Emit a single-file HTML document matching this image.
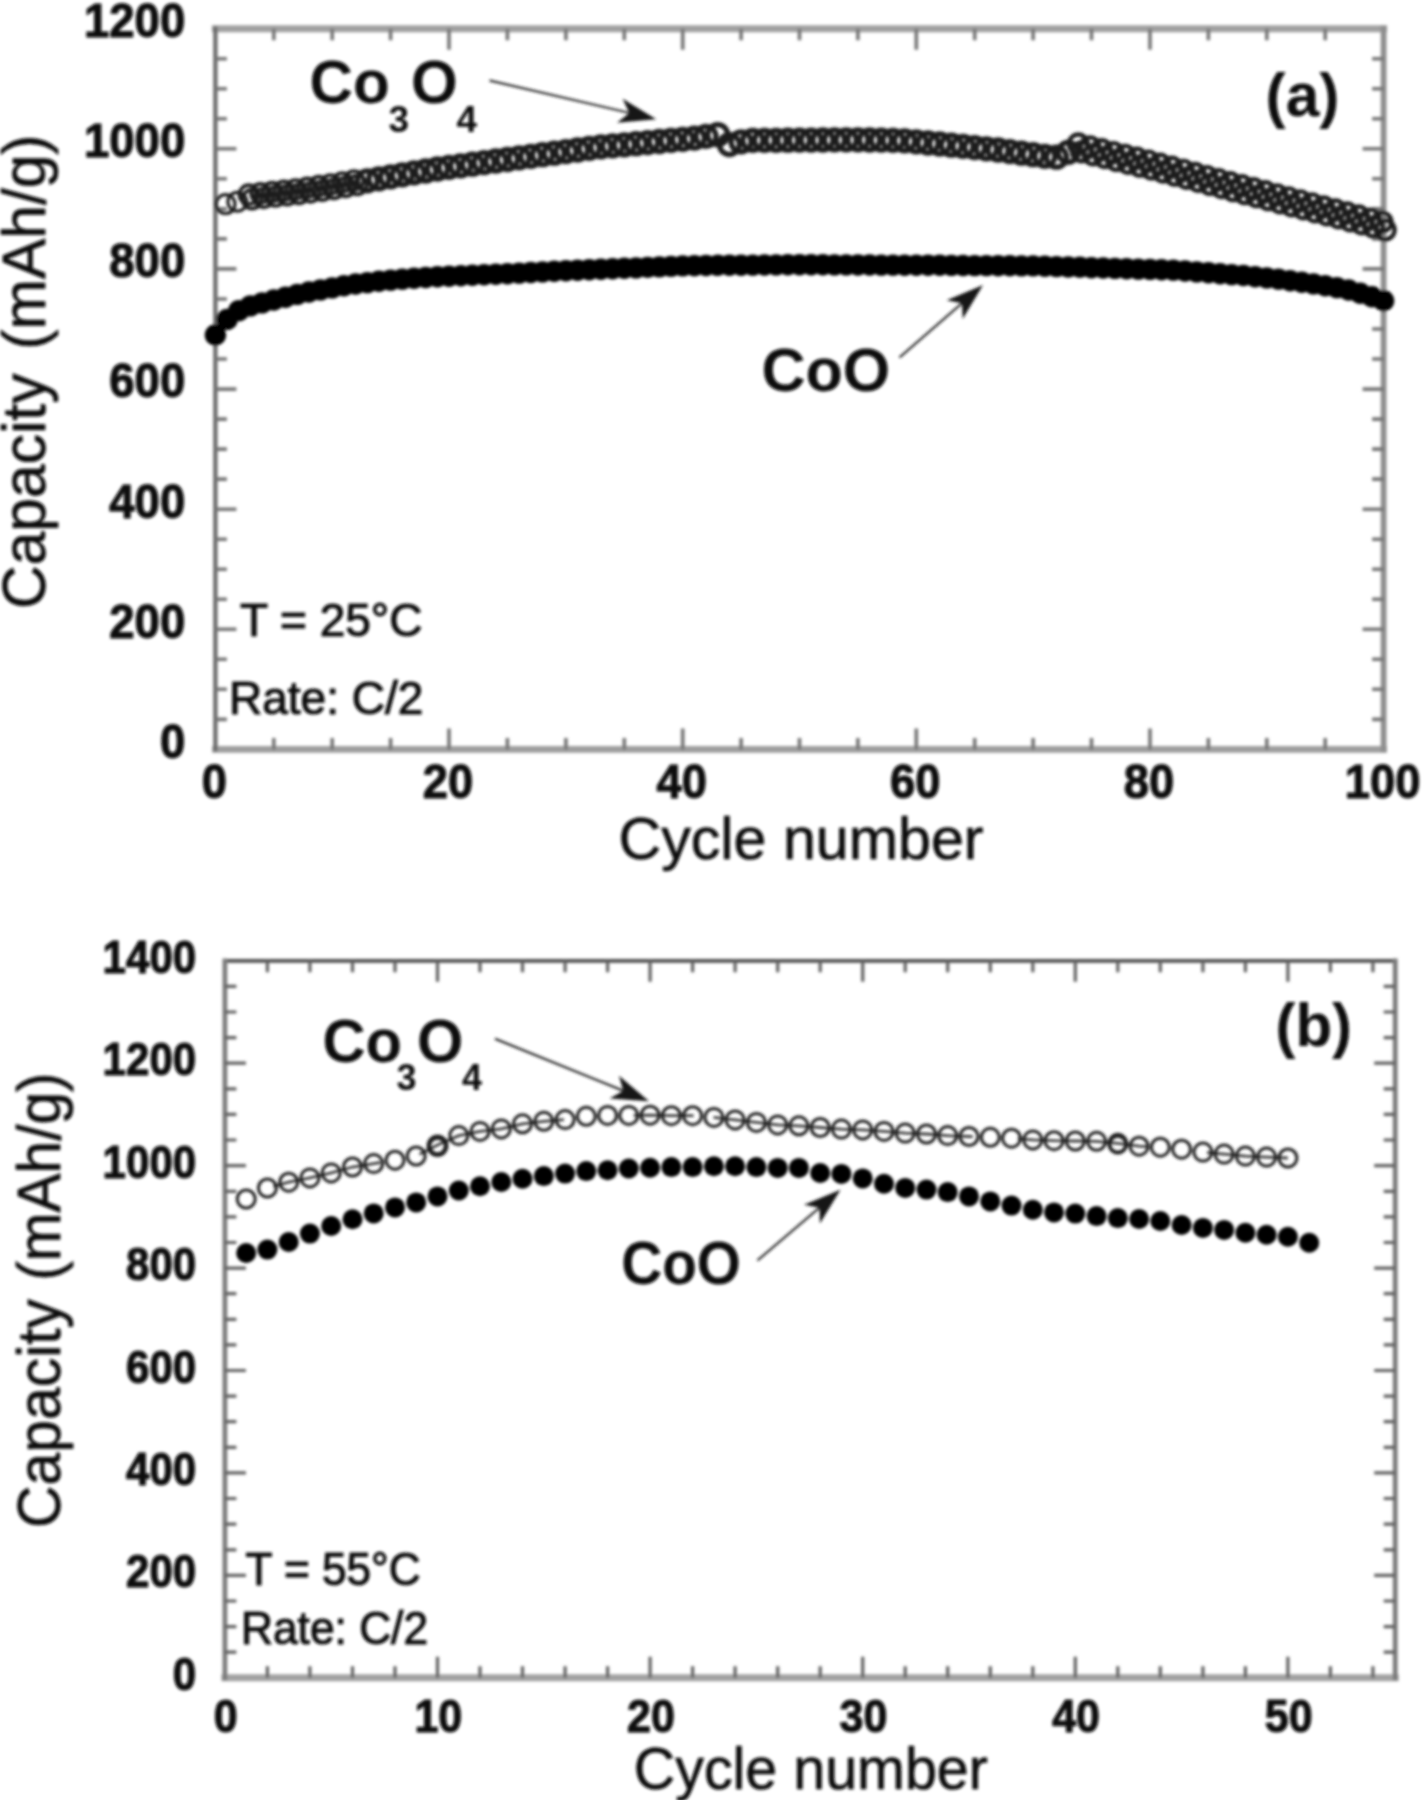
<!DOCTYPE html>
<html lang="en"><head><meta charset="utf-8"><title>Capacity vs cycle number</title>
<style>html,body{margin:0;padding:0;background:#fff}body{width:1423px;height:1800px;overflow:hidden}svg{display:block}</style>
</head><body>
<svg width="1423" height="1800" viewBox="0 0 1423 1800" font-family='"Liberation Sans", Arial, Helvetica, sans-serif' fill="#0b0b0b">
<defs><filter id="bl" x="-2%" y="-2%" width="104%" height="104%"><feGaussianBlur stdDeviation="1.5"/></filter></defs>
<g filter="url(#bl)">
<path d="M215.4 28.7L1383.6 28.7" stroke="#a0a0a0" stroke-width="7" stroke-linecap="square" fill="none"/>
<path d="M215.4 749.4L1383.6 749.4" stroke="#9e9e9e" stroke-width="6.6" stroke-linecap="square" fill="none"/>
<path d="M215.4 28.7L215.4 749.4" stroke="#6c6c6c" stroke-width="4.4" stroke-linecap="square" fill="none"/>
<path d="M1383.6 28.7L1383.6 749.4" stroke="#8e8e8e" stroke-width="5.8" stroke-linecap="square" fill="none"/>
<path d="M273.8 749.4v-11.5M273.8 28.7v11.5M332.2 749.4v-11.5M332.2 28.7v11.5M390.6 749.4v-11.5M390.6 28.7v11.5M449.0 749.4v-21M449.0 28.7v21M507.4 749.4v-11.5M507.4 28.7v11.5M565.9 749.4v-11.5M565.9 28.7v11.5M624.3 749.4v-11.5M624.3 28.7v11.5M682.7 749.4v-21M682.7 28.7v21M741.1 749.4v-11.5M741.1 28.7v11.5M799.5 749.4v-11.5M799.5 28.7v11.5M857.9 749.4v-11.5M857.9 28.7v11.5M916.3 749.4v-21M916.3 28.7v21M974.7 749.4v-11.5M974.7 28.7v11.5M1033.1 749.4v-11.5M1033.1 28.7v11.5M1091.5 749.4v-11.5M1091.5 28.7v11.5M1150.0 749.4v-21M1150.0 28.7v21M1208.4 749.4v-11.5M1208.4 28.7v11.5M1266.8 749.4v-11.5M1266.8 28.7v11.5M1325.2 749.4v-11.5M1325.2 28.7v11.5M215.4 719.4h11.5M1383.6 719.4h-11.5M215.4 689.3h11.5M1383.6 689.3h-11.5M215.4 659.3h11.5M1383.6 659.3h-11.5M215.4 629.3h21M1383.6 629.3h-21M215.4 599.3h11.5M1383.6 599.3h-11.5M215.4 569.2h11.5M1383.6 569.2h-11.5M215.4 539.2h11.5M1383.6 539.2h-11.5M215.4 509.2h21M1383.6 509.2h-21M215.4 479.1h11.5M1383.6 479.1h-11.5M215.4 449.1h11.5M1383.6 449.1h-11.5M215.4 419.1h11.5M1383.6 419.1h-11.5M215.4 389.1h21M1383.6 389.1h-21M215.4 359.0h11.5M1383.6 359.0h-11.5M215.4 329.0h11.5M1383.6 329.0h-11.5M215.4 299.0h11.5M1383.6 299.0h-11.5M215.4 268.9h21M1383.6 268.9h-21M215.4 238.9h11.5M1383.6 238.9h-11.5M215.4 208.9h11.5M1383.6 208.9h-11.5M215.4 178.8h11.5M1383.6 178.8h-11.5M215.4 148.8h21M1383.6 148.8h-21M215.4 118.8h11.5M1383.6 118.8h-11.5M215.4 88.8h11.5M1383.6 88.8h-11.5M215.4 58.7h11.5M1383.6 58.7h-11.5" stroke="#757575" stroke-width="3.6" fill="none"/>
<text transform="translate(185.3,757.7) scale(0.95,1)" font-size="48" font-weight="bold" text-anchor="end" stroke="#0b0b0b" stroke-width="1.1">0</text>
<text transform="translate(185.3,637.6) scale(0.95,1)" font-size="48" font-weight="bold" text-anchor="end" stroke="#0b0b0b" stroke-width="1.1">200</text>
<text transform="translate(185.3,517.5) scale(0.95,1)" font-size="48" font-weight="bold" text-anchor="end" stroke="#0b0b0b" stroke-width="1.1">400</text>
<text transform="translate(185.3,397.4) scale(0.95,1)" font-size="48" font-weight="bold" text-anchor="end" stroke="#0b0b0b" stroke-width="1.1">600</text>
<text transform="translate(185.3,277.2) scale(0.95,1)" font-size="48" font-weight="bold" text-anchor="end" stroke="#0b0b0b" stroke-width="1.1">800</text>
<text transform="translate(185.3,157.1) scale(0.95,1)" font-size="48" font-weight="bold" text-anchor="end" stroke="#0b0b0b" stroke-width="1.1">1000</text>
<text transform="translate(185.3,37.0) scale(0.95,1)" font-size="48" font-weight="bold" text-anchor="end" stroke="#0b0b0b" stroke-width="1.1">1200</text>
<text transform="translate(214.4,798.2) scale(0.935,1)" font-size="48.5" font-weight="bold" text-anchor="middle" stroke="#0b0b0b" stroke-width="1.1">0</text>
<text transform="translate(448.0,798.2) scale(0.935,1)" font-size="48.5" font-weight="bold" text-anchor="middle" stroke="#0b0b0b" stroke-width="1.1">20</text>
<text transform="translate(681.7,798.2) scale(0.935,1)" font-size="48.5" font-weight="bold" text-anchor="middle" stroke="#0b0b0b" stroke-width="1.1">40</text>
<text transform="translate(915.3,798.2) scale(0.935,1)" font-size="48.5" font-weight="bold" text-anchor="middle" stroke="#0b0b0b" stroke-width="1.1">60</text>
<text transform="translate(1149.0,798.2) scale(0.935,1)" font-size="48.5" font-weight="bold" text-anchor="middle" stroke="#0b0b0b" stroke-width="1.1">80</text>
<text transform="translate(1382.6,798.2) scale(0.935,1)" font-size="48.5" font-weight="bold" text-anchor="middle" stroke="#0b0b0b" stroke-width="1.1">100</text>
<text x="801" y="858.5" font-size="59.2" font-weight="normal" text-anchor="middle"  stroke="#111" stroke-width="0.7">Cycle number</text>
<text x="0" y="0" font-size="60.5" font-weight="normal" text-anchor="start" transform="translate(44.6,609) rotate(-90)" stroke="#111" stroke-width="0.7">Capacity</text>
<text x="0" y="0" font-size="60.5" font-weight="normal" text-anchor="end" transform="translate(44.6,134.5) rotate(-90)" stroke="#111" stroke-width="0.7">(mAh/g)</text>
<g fill="none" stroke="#1c1c1c" stroke-width="5.3">
<circle cx="225.6" cy="204.1" r="9.4" stroke-width="3.2"/>
<circle cx="237.3" cy="201.7" r="9.4" stroke-width="3.2"/>
<circle cx="248.8" cy="194.6" r="9.4" stroke-width="3.7"/>
<circle cx="252.0" cy="199.2" r="9.4" stroke-width="3.7"/>
<circle cx="260.5" cy="193.3" r="9.4" stroke-width="3.7"/>
<circle cx="263.7" cy="197.9" r="9.4" stroke-width="3.7"/>
<circle cx="272.2" cy="192.0" r="9.4" stroke-width="3.7"/>
<circle cx="275.4" cy="196.6" r="9.4" stroke-width="3.7"/>
<circle cx="283.9" cy="190.7" r="9.4" stroke-width="3.7"/>
<circle cx="287.1" cy="195.3" r="9.4" stroke-width="3.7"/>
<circle cx="295.6" cy="189.4" r="9.4" stroke-width="3.7"/>
<circle cx="298.8" cy="194.0" r="9.4" stroke-width="3.7"/>
<circle cx="307.3" cy="187.8" r="9.4" stroke-width="3.7"/>
<circle cx="310.5" cy="192.4" r="9.4" stroke-width="3.7"/>
<circle cx="318.9" cy="186.1" r="9.4" stroke-width="3.7"/>
<circle cx="322.1" cy="190.7" r="9.4" stroke-width="3.7"/>
<circle cx="330.6" cy="184.4" r="9.4" stroke-width="3.7"/>
<circle cx="333.8" cy="189.0" r="9.4" stroke-width="3.7"/>
<circle cx="342.3" cy="182.4" r="9.4" stroke-width="3.7"/>
<circle cx="345.5" cy="187.0" r="9.4" stroke-width="3.7"/>
<circle cx="354.0" cy="180.4" r="9.4" stroke-width="3.7"/>
<circle cx="357.2" cy="185.0" r="9.4" stroke-width="3.7"/>
<circle cx="367.3" cy="180.8" r="10"/>
<circle cx="378.9" cy="178.8" r="10"/>
<circle cx="390.6" cy="176.9" r="10"/>
<circle cx="402.3" cy="174.9" r="10"/>
<circle cx="414.0" cy="172.9" r="10"/>
<circle cx="425.7" cy="171.0" r="10"/>
<circle cx="437.4" cy="169.0" r="10"/>
<circle cx="449.0" cy="167.4" r="10"/>
<circle cx="460.7" cy="165.8" r="10"/>
<circle cx="472.4" cy="164.2" r="10"/>
<circle cx="484.1" cy="162.6" r="10"/>
<circle cx="495.8" cy="161.0" r="10"/>
<circle cx="507.4" cy="159.5" r="10"/>
<circle cx="519.1" cy="157.9" r="10"/>
<circle cx="530.8" cy="156.3" r="10"/>
<circle cx="542.5" cy="154.7" r="10"/>
<circle cx="554.2" cy="153.2" r="10"/>
<circle cx="565.9" cy="151.6" r="10"/>
<circle cx="577.5" cy="150.0" r="10"/>
<circle cx="589.2" cy="148.4" r="10"/>
<circle cx="600.9" cy="146.9" r="10"/>
<circle cx="612.6" cy="145.8" r="10"/>
<circle cx="624.3" cy="144.8" r="10"/>
<circle cx="636.0" cy="143.7" r="10"/>
<circle cx="647.6" cy="142.6" r="10"/>
<circle cx="659.3" cy="141.5" r="10"/>
<circle cx="671.0" cy="140.4" r="10"/>
<circle cx="682.7" cy="139.4" r="10"/>
<circle cx="694.4" cy="138.1" r="10"/>
<circle cx="706.0" cy="136.4" r="10"/>
<circle cx="717.7" cy="134.7" r="10"/>
<circle cx="729.4" cy="144.6" r="10"/>
<circle cx="741.1" cy="141.8" r="10"/>
<circle cx="752.8" cy="140.4" r="10"/>
<circle cx="764.5" cy="140.3" r="10"/>
<circle cx="776.1" cy="140.3" r="10"/>
<circle cx="787.8" cy="140.2" r="10"/>
<circle cx="799.5" cy="140.1" r="10"/>
<circle cx="811.2" cy="140.1" r="10"/>
<circle cx="822.9" cy="140.0" r="10"/>
<circle cx="834.5" cy="139.9" r="10"/>
<circle cx="846.2" cy="139.9" r="10"/>
<circle cx="857.9" cy="139.8" r="10"/>
<circle cx="869.6" cy="140.0" r="10"/>
<circle cx="881.3" cy="140.1" r="10"/>
<circle cx="893.0" cy="140.3" r="10"/>
<circle cx="904.6" cy="140.8" r="10"/>
<circle cx="916.3" cy="141.9" r="10"/>
<circle cx="928.0" cy="143.0" r="10"/>
<circle cx="939.7" cy="144.0" r="10"/>
<circle cx="951.4" cy="145.2" r="10"/>
<circle cx="963.0" cy="146.4" r="10"/>
<circle cx="974.7" cy="147.6" r="10"/>
<circle cx="986.4" cy="148.8" r="10"/>
<circle cx="998.1" cy="150.0" r="10"/>
<circle cx="1009.8" cy="151.6" r="10"/>
<circle cx="1021.5" cy="153.2" r="10"/>
<circle cx="1033.1" cy="154.7" r="10"/>
<circle cx="1044.8" cy="156.3" r="10"/>
<circle cx="1056.5" cy="157.2" r="10"/>
<circle cx="1068.2" cy="152.4" r="10"/>
<circle cx="1078.3" cy="143.9" r="9.4" stroke-width="4.4"/>
<circle cx="1081.5" cy="151.9" r="9.4" stroke-width="4.4"/>
<circle cx="1090.0" cy="146.8" r="9.4" stroke-width="4.4"/>
<circle cx="1093.1" cy="154.8" r="9.4" stroke-width="4.4"/>
<circle cx="1101.6" cy="149.6" r="9.4" stroke-width="4.4"/>
<circle cx="1104.8" cy="157.6" r="9.4" stroke-width="4.4"/>
<circle cx="1113.3" cy="152.5" r="9.4" stroke-width="4.4"/>
<circle cx="1116.5" cy="160.5" r="9.4" stroke-width="4.4"/>
<circle cx="1125.0" cy="155.3" r="9.4" stroke-width="4.4"/>
<circle cx="1128.2" cy="163.3" r="9.4" stroke-width="4.4"/>
<circle cx="1136.7" cy="158.2" r="9.4" stroke-width="4.4"/>
<circle cx="1139.9" cy="166.2" r="9.4" stroke-width="4.4"/>
<circle cx="1148.4" cy="161.0" r="9.4" stroke-width="4.4"/>
<circle cx="1151.6" cy="169.0" r="9.4" stroke-width="4.4"/>
<circle cx="1160.0" cy="164.1" r="9.4" stroke-width="4.4"/>
<circle cx="1163.2" cy="172.1" r="9.4" stroke-width="4.4"/>
<circle cx="1171.7" cy="167.2" r="9.4" stroke-width="4.4"/>
<circle cx="1174.9" cy="175.2" r="9.4" stroke-width="4.4"/>
<circle cx="1183.4" cy="170.3" r="9.4" stroke-width="4.4"/>
<circle cx="1186.6" cy="178.3" r="9.4" stroke-width="4.4"/>
<circle cx="1195.1" cy="173.4" r="9.4" stroke-width="4.4"/>
<circle cx="1198.3" cy="181.4" r="9.4" stroke-width="4.4"/>
<circle cx="1206.8" cy="176.5" r="9.4" stroke-width="4.4"/>
<circle cx="1210.0" cy="184.5" r="9.4" stroke-width="4.4"/>
<circle cx="1218.5" cy="179.6" r="9.4" stroke-width="4.4"/>
<circle cx="1221.7" cy="187.6" r="9.4" stroke-width="4.4"/>
<circle cx="1230.1" cy="182.7" r="9.4" stroke-width="4.4"/>
<circle cx="1233.3" cy="190.7" r="9.4" stroke-width="4.4"/>
<circle cx="1241.8" cy="185.7" r="9.4" stroke-width="4.4"/>
<circle cx="1245.0" cy="193.7" r="9.4" stroke-width="4.4"/>
<circle cx="1253.5" cy="188.7" r="9.4" stroke-width="4.4"/>
<circle cx="1256.7" cy="196.7" r="9.4" stroke-width="4.4"/>
<circle cx="1265.2" cy="191.7" r="9.4" stroke-width="4.4"/>
<circle cx="1268.4" cy="199.7" r="9.4" stroke-width="4.4"/>
<circle cx="1276.9" cy="194.8" r="9.4" stroke-width="4.4"/>
<circle cx="1280.1" cy="202.8" r="9.4" stroke-width="4.4"/>
<circle cx="1288.5" cy="197.8" r="9.4" stroke-width="4.4"/>
<circle cx="1291.7" cy="205.8" r="9.4" stroke-width="4.4"/>
<circle cx="1300.2" cy="200.8" r="9.4" stroke-width="4.4"/>
<circle cx="1303.4" cy="208.8" r="9.4" stroke-width="4.4"/>
<circle cx="1311.9" cy="203.8" r="9.4" stroke-width="4.4"/>
<circle cx="1315.1" cy="211.8" r="9.4" stroke-width="4.4"/>
<circle cx="1323.6" cy="206.9" r="9.4" stroke-width="4.4"/>
<circle cx="1326.8" cy="214.9" r="9.4" stroke-width="4.4"/>
<circle cx="1335.3" cy="209.9" r="9.4" stroke-width="4.4"/>
<circle cx="1338.5" cy="217.9" r="9.4" stroke-width="4.4"/>
<circle cx="1347.0" cy="212.9" r="9.4" stroke-width="4.4"/>
<circle cx="1350.2" cy="220.9" r="9.4" stroke-width="4.4"/>
<circle cx="1358.6" cy="215.9" r="9.4" stroke-width="4.4"/>
<circle cx="1361.8" cy="223.9" r="9.4" stroke-width="4.4"/>
<circle cx="1370.3" cy="219.0" r="9.4" stroke-width="4.4"/>
<circle cx="1373.5" cy="227.0" r="9.4" stroke-width="4.4"/>
<circle cx="1382.0" cy="222.0" r="9.4" stroke-width="4.4"/>
<circle cx="1385.2" cy="230.0" r="9.4" stroke-width="4.4"/>
</g>
<g fill="#000">
<circle cx="215.4" cy="335.0" r="10.7"/>
<circle cx="227.1" cy="319.4" r="10.7"/>
<circle cx="238.8" cy="310.6" r="10.7"/>
<circle cx="250.4" cy="305.9" r="10.7"/>
<circle cx="262.1" cy="302.9" r="10.7"/>
<circle cx="273.8" cy="300.0" r="10.7"/>
<circle cx="285.5" cy="297.2" r="10.7"/>
<circle cx="297.2" cy="294.4" r="10.7"/>
<circle cx="308.9" cy="292.0" r="10.7"/>
<circle cx="320.5" cy="289.9" r="10.7"/>
<circle cx="332.2" cy="287.9" r="10.7"/>
<circle cx="343.9" cy="285.8" r="10.7"/>
<circle cx="355.6" cy="284.0" r="10.7"/>
<circle cx="367.3" cy="282.6" r="10.7"/>
<circle cx="378.9" cy="281.3" r="10.7"/>
<circle cx="390.6" cy="280.1" r="10.7"/>
<circle cx="402.3" cy="279.1" r="10.7"/>
<circle cx="414.0" cy="278.3" r="10.7"/>
<circle cx="425.7" cy="277.5" r="10.7"/>
<circle cx="437.4" cy="276.7" r="10.7"/>
<circle cx="449.0" cy="276.2" r="10.7"/>
<circle cx="460.7" cy="275.8" r="10.7"/>
<circle cx="472.4" cy="275.3" r="10.7"/>
<circle cx="484.1" cy="274.8" r="10.7"/>
<circle cx="495.8" cy="274.3" r="10.7"/>
<circle cx="507.4" cy="273.7" r="10.7"/>
<circle cx="519.1" cy="273.1" r="10.7"/>
<circle cx="530.8" cy="272.5" r="10.7"/>
<circle cx="542.5" cy="271.9" r="10.7"/>
<circle cx="554.2" cy="271.3" r="10.7"/>
<circle cx="565.9" cy="270.7" r="10.7"/>
<circle cx="577.5" cy="270.3" r="10.7"/>
<circle cx="589.2" cy="269.8" r="10.7"/>
<circle cx="600.9" cy="269.3" r="10.7"/>
<circle cx="612.6" cy="268.8" r="10.7"/>
<circle cx="624.3" cy="268.3" r="10.7"/>
<circle cx="636.0" cy="267.9" r="10.7"/>
<circle cx="647.6" cy="267.4" r="10.7"/>
<circle cx="659.3" cy="266.9" r="10.7"/>
<circle cx="671.0" cy="266.4" r="10.7"/>
<circle cx="682.7" cy="265.9" r="10.7"/>
<circle cx="694.4" cy="265.7" r="10.7"/>
<circle cx="706.0" cy="265.5" r="10.7"/>
<circle cx="717.7" cy="265.3" r="10.7"/>
<circle cx="729.4" cy="265.2" r="10.7"/>
<circle cx="741.1" cy="265.2" r="10.7"/>
<circle cx="752.8" cy="265.1" r="10.7"/>
<circle cx="764.5" cy="265.0" r="10.7"/>
<circle cx="776.1" cy="264.9" r="10.7"/>
<circle cx="787.8" cy="264.8" r="10.7"/>
<circle cx="799.5" cy="264.7" r="10.7"/>
<circle cx="811.2" cy="264.8" r="10.7"/>
<circle cx="822.9" cy="264.8" r="10.7"/>
<circle cx="834.5" cy="264.9" r="10.7"/>
<circle cx="846.2" cy="264.9" r="10.7"/>
<circle cx="857.9" cy="265.0" r="10.7"/>
<circle cx="869.6" cy="265.0" r="10.7"/>
<circle cx="881.3" cy="265.1" r="10.7"/>
<circle cx="893.0" cy="265.1" r="10.7"/>
<circle cx="904.6" cy="265.2" r="10.7"/>
<circle cx="916.3" cy="265.2" r="10.7"/>
<circle cx="928.0" cy="265.3" r="10.7"/>
<circle cx="939.7" cy="265.3" r="10.7"/>
<circle cx="951.4" cy="265.4" r="10.7"/>
<circle cx="963.0" cy="265.5" r="10.7"/>
<circle cx="974.7" cy="265.6" r="10.7"/>
<circle cx="986.4" cy="265.6" r="10.7"/>
<circle cx="998.1" cy="265.7" r="10.7"/>
<circle cx="1009.8" cy="265.8" r="10.7"/>
<circle cx="1021.5" cy="265.9" r="10.7"/>
<circle cx="1033.1" cy="265.9" r="10.7"/>
<circle cx="1044.8" cy="266.3" r="10.7"/>
<circle cx="1056.5" cy="266.6" r="10.7"/>
<circle cx="1068.2" cy="267.0" r="10.7"/>
<circle cx="1079.9" cy="267.3" r="10.7"/>
<circle cx="1091.5" cy="267.7" r="10.7"/>
<circle cx="1103.2" cy="268.0" r="10.7"/>
<circle cx="1114.9" cy="268.4" r="10.7"/>
<circle cx="1126.6" cy="268.7" r="10.7"/>
<circle cx="1138.3" cy="269.1" r="10.7"/>
<circle cx="1150.0" cy="269.4" r="10.7"/>
<circle cx="1161.6" cy="269.8" r="10.7"/>
<circle cx="1173.3" cy="270.1" r="10.7"/>
<circle cx="1185.0" cy="271.0" r="10.7"/>
<circle cx="1196.7" cy="271.9" r="10.7"/>
<circle cx="1208.4" cy="272.8" r="10.7"/>
<circle cx="1220.1" cy="273.7" r="10.7"/>
<circle cx="1231.7" cy="274.6" r="10.7"/>
<circle cx="1243.4" cy="275.5" r="10.7"/>
<circle cx="1255.1" cy="276.7" r="10.7"/>
<circle cx="1266.8" cy="277.9" r="10.7"/>
<circle cx="1278.5" cy="279.1" r="10.7"/>
<circle cx="1290.1" cy="280.7" r="10.7"/>
<circle cx="1301.8" cy="282.3" r="10.7"/>
<circle cx="1313.5" cy="283.9" r="10.7"/>
<circle cx="1325.2" cy="285.8" r="10.7"/>
<circle cx="1336.9" cy="287.6" r="10.7"/>
<circle cx="1348.6" cy="290.0" r="10.7"/>
<circle cx="1360.2" cy="293.2" r="10.7"/>
<circle cx="1371.9" cy="296.8" r="10.7"/>
<circle cx="1383.6" cy="300.8" r="10.7"/>
</g>
<text transform="translate(309.5,102.7) scale(0.97,1)" font-size="62" font-weight="bold" text-anchor="start">Co</text>
<text transform="translate(388.5,132.0) scale(1,1)" font-size="37" font-weight="bold" text-anchor="start">3</text>
<text transform="translate(411.0,102.7) scale(0.97,1)" font-size="62" font-weight="bold" text-anchor="start">O</text>
<text transform="translate(456.5,132.0) scale(1,1)" font-size="37" font-weight="bold" text-anchor="start">4</text>
<text transform="translate(761.5,391.0) scale(1,1)" font-size="61" font-weight="bold" text-anchor="start">CoO</text>
<text x="1265.5" y="115.5" font-size="60.5" font-weight="bold" text-anchor="start" >(a)</text>
<text x="240" y="635.5" font-size="46" font-weight="normal" text-anchor="start"  stroke="#111" stroke-width="1.1">T = 25°C</text>
<text x="229" y="714.3" font-size="46" font-weight="normal" text-anchor="start"  stroke="#111" stroke-width="1.1">Rate: C/2</text>
<path d="M489.5 80.5L629.3 112.9" stroke="#1a1a1a" stroke-width="2.0" fill="none"/>
<path d="M656.3 119.2L617.0 122.7L629.3 112.9L622.6 98.7Z" fill="#141414"/>
<path d="M899.5 357.5L962.0 303.2" stroke="#1a1a1a" stroke-width="2.0" fill="none"/>
<path d="M983.0 285.0L962.7 318.9L962.0 303.2L946.6 300.3Z" fill="#141414"/>
<path d="M224.9 960.8L1395.2 960.8" stroke="#505050" stroke-width="3.8" stroke-linecap="square" fill="none"/>
<path d="M224.9 1677.8L1395.2 1677.8" stroke="#a2a2a2" stroke-width="7" stroke-linecap="square" fill="none"/>
<path d="M224.9 960.8L224.9 1677.8" stroke="#7c7c7c" stroke-width="4.8" stroke-linecap="square" fill="none"/>
<path d="M1395.2 960.8L1395.2 1677.8" stroke="#7a7a7a" stroke-width="4.8" stroke-linecap="square" fill="none"/>
<path d="M267.4 1677.8v-11.5M267.4 960.8v11.5M309.9 1677.8v-11.5M309.9 960.8v11.5M352.5 1677.8v-11.5M352.5 960.8v11.5M395.0 1677.8v-11.5M395.0 960.8v11.5M437.5 1677.8v-21M437.5 960.8v21M480.0 1677.8v-11.5M480.0 960.8v11.5M522.5 1677.8v-11.5M522.5 960.8v11.5M565.1 1677.8v-11.5M565.1 960.8v11.5M607.6 1677.8v-11.5M607.6 960.8v11.5M650.1 1677.8v-21M650.1 960.8v21M692.6 1677.8v-11.5M692.6 960.8v11.5M735.1 1677.8v-11.5M735.1 960.8v11.5M777.7 1677.8v-11.5M777.7 960.8v11.5M820.2 1677.8v-11.5M820.2 960.8v11.5M862.7 1677.8v-21M862.7 960.8v21M905.2 1677.8v-11.5M905.2 960.8v11.5M947.7 1677.8v-11.5M947.7 960.8v11.5M990.3 1677.8v-11.5M990.3 960.8v11.5M1032.8 1677.8v-11.5M1032.8 960.8v11.5M1075.3 1677.8v-21M1075.3 960.8v21M1117.8 1677.8v-11.5M1117.8 960.8v11.5M1160.3 1677.8v-11.5M1160.3 960.8v11.5M1202.9 1677.8v-11.5M1202.9 960.8v11.5M1245.4 1677.8v-11.5M1245.4 960.8v11.5M1287.9 1677.8v-21M1287.9 960.8v21M1330.4 1677.8v-11.5M1330.4 960.8v11.5M1372.9 1677.8v-11.5M1372.9 960.8v11.5M224.9 1652.2h11.5M1395.2 1652.2h-11.5M224.9 1626.6h11.5M1395.2 1626.6h-11.5M224.9 1601.0h11.5M1395.2 1601.0h-11.5M224.9 1575.4h21M1395.2 1575.4h-21M224.9 1549.8h11.5M1395.2 1549.8h-11.5M224.9 1524.2h11.5M1395.2 1524.2h-11.5M224.9 1498.5h11.5M1395.2 1498.5h-11.5M224.9 1472.9h21M1395.2 1472.9h-21M224.9 1447.3h11.5M1395.2 1447.3h-11.5M224.9 1421.7h11.5M1395.2 1421.7h-11.5M224.9 1396.1h11.5M1395.2 1396.1h-11.5M224.9 1370.5h21M1395.2 1370.5h-21M224.9 1344.9h11.5M1395.2 1344.9h-11.5M224.9 1319.3h11.5M1395.2 1319.3h-11.5M224.9 1293.7h11.5M1395.2 1293.7h-11.5M224.9 1268.1h21M1395.2 1268.1h-21M224.9 1242.5h11.5M1395.2 1242.5h-11.5M224.9 1216.9h11.5M1395.2 1216.9h-11.5M224.9 1191.3h11.5M1395.2 1191.3h-11.5M224.9 1165.7h21M1395.2 1165.7h-21M224.9 1140.0h11.5M1395.2 1140.0h-11.5M224.9 1114.4h11.5M1395.2 1114.4h-11.5M224.9 1088.8h11.5M1395.2 1088.8h-11.5M224.9 1063.2h21M1395.2 1063.2h-21M224.9 1037.6h11.5M1395.2 1037.6h-11.5M224.9 1012.0h11.5M1395.2 1012.0h-11.5M224.9 986.4h11.5M1395.2 986.4h-11.5" stroke="#606060" stroke-width="3.2" fill="none"/>
<text transform="translate(196.2,1689.8) scale(0.925,1)" font-size="45.5" font-weight="bold" text-anchor="end" stroke="#0b0b0b" stroke-width="1.1">0</text>
<text transform="translate(196.2,1587.4) scale(0.925,1)" font-size="45.5" font-weight="bold" text-anchor="end" stroke="#0b0b0b" stroke-width="1.1">200</text>
<text transform="translate(196.2,1484.9) scale(0.925,1)" font-size="45.5" font-weight="bold" text-anchor="end" stroke="#0b0b0b" stroke-width="1.1">400</text>
<text transform="translate(196.2,1382.5) scale(0.925,1)" font-size="45.5" font-weight="bold" text-anchor="end" stroke="#0b0b0b" stroke-width="1.1">600</text>
<text transform="translate(196.2,1280.1) scale(0.925,1)" font-size="45.5" font-weight="bold" text-anchor="end" stroke="#0b0b0b" stroke-width="1.1">800</text>
<text transform="translate(196.2,1177.7) scale(0.925,1)" font-size="45.5" font-weight="bold" text-anchor="end" stroke="#0b0b0b" stroke-width="1.1">1000</text>
<text transform="translate(196.2,1075.2) scale(0.925,1)" font-size="45.5" font-weight="bold" text-anchor="end" stroke="#0b0b0b" stroke-width="1.1">1200</text>
<text transform="translate(196.2,972.8) scale(0.925,1)" font-size="45.5" font-weight="bold" text-anchor="end" stroke="#0b0b0b" stroke-width="1.1">1400</text>
<text transform="translate(225.7,1731.7) scale(0.925,1)" font-size="46.5" font-weight="bold" text-anchor="middle" stroke="#0b0b0b" stroke-width="1.1">0</text>
<text transform="translate(438.3,1731.7) scale(0.925,1)" font-size="46.5" font-weight="bold" text-anchor="middle" stroke="#0b0b0b" stroke-width="1.1">10</text>
<text transform="translate(650.9,1731.7) scale(0.925,1)" font-size="46.5" font-weight="bold" text-anchor="middle" stroke="#0b0b0b" stroke-width="1.1">20</text>
<text transform="translate(863.5,1731.7) scale(0.925,1)" font-size="46.5" font-weight="bold" text-anchor="middle" stroke="#0b0b0b" stroke-width="1.1">30</text>
<text transform="translate(1076.1,1731.7) scale(0.925,1)" font-size="46.5" font-weight="bold" text-anchor="middle" stroke="#0b0b0b" stroke-width="1.1">40</text>
<text transform="translate(1288.7,1731.7) scale(0.925,1)" font-size="46.5" font-weight="bold" text-anchor="middle" stroke="#0b0b0b" stroke-width="1.1">50</text>
<text transform="translate(810.8,1788.5) scale(0.97,1)" font-size="59.2" font-weight="normal" text-anchor="middle" stroke="#111" stroke-width="0.7">Cycle number</text>
<text transform="translate(59.5,1528.0) rotate(-90) scale(0.965,1)" font-size="61" font-weight="normal" text-anchor="start" stroke="#111" stroke-width="0.7">Capacity</text>
<text transform="translate(59.5,1072.5) rotate(-90) scale(0.96,1)" font-size="61" font-weight="normal" text-anchor="end" stroke="#111" stroke-width="0.7">(mAh/g)</text>
<path d="M246.2 1199.0L267.4 1188.0L288.7 1182.2L309.9 1177.9L331.2 1172.9L352.5 1167.0L373.7 1163.6L395.0 1160.2L416.2 1156.0L437.5 1145.0L458.8 1135.6L480.0 1131.4L501.3 1128.9L522.5 1123.8L543.8 1121.3L565.1 1119.6L586.3 1116.3L607.6 1115.4L628.8 1115.4L650.1 1115.2L671.4 1115.7L692.6 1115.7L713.9 1117.4L735.1 1119.9L756.4 1122.4L777.7 1124.9L798.9 1125.8L820.2 1127.5L841.4 1129.1L862.7 1129.9L884.0 1131.4L905.2 1133.1L926.5 1134.0L947.7 1135.6L969.0 1136.5L990.3 1137.3L1011.5 1138.2L1032.8 1139.9L1054.0 1140.7L1075.3 1141.0L1096.6 1141.3L1117.8 1143.3L1139.1 1146.2L1160.3 1147.2L1181.6 1149.2L1202.9 1152.1L1224.1 1154.1L1245.4 1156.1L1266.6 1157.1L1287.9 1158.0" fill="none" stroke="#2a2a2a" stroke-opacity="0.9" stroke-width="2.8" stroke-dasharray="0 30 110 40 150 70 60 20 260 45 130 60 90 25 200 40"/>
<g fill="none" stroke="#1e1e1e" stroke-width="3.0">
<circle cx="246.2" cy="1199.0" r="9.0"/>
<circle cx="267.4" cy="1188.0" r="9.0"/>
<circle cx="288.7" cy="1182.2" r="9.0"/>
<circle cx="309.9" cy="1177.9" r="9.0"/>
<circle cx="331.2" cy="1172.9" r="9.0"/>
<circle cx="352.5" cy="1167.0" r="9.0"/>
<circle cx="373.7" cy="1163.6" r="9.0"/>
<circle cx="395.0" cy="1160.2" r="9.0"/>
<circle cx="416.2" cy="1156.0" r="9.0"/>
<circle cx="437.5" cy="1145.0" r="9.0"/>
<circle cx="458.8" cy="1135.6" r="9.0"/>
<circle cx="480.0" cy="1131.4" r="9.0"/>
<circle cx="501.3" cy="1128.9" r="9.0"/>
<circle cx="522.5" cy="1123.8" r="9.0"/>
<circle cx="543.8" cy="1121.3" r="9.0"/>
<circle cx="565.1" cy="1119.6" r="9.0"/>
<circle cx="586.3" cy="1116.3" r="9.0"/>
<circle cx="607.6" cy="1115.4" r="9.0"/>
<circle cx="628.8" cy="1115.4" r="9.0"/>
<circle cx="650.1" cy="1115.2" r="9.0"/>
<circle cx="671.4" cy="1115.7" r="9.0"/>
<circle cx="692.6" cy="1115.7" r="9.0"/>
<circle cx="713.9" cy="1117.4" r="9.0"/>
<circle cx="735.1" cy="1119.9" r="9.0"/>
<circle cx="756.4" cy="1122.4" r="9.0"/>
<circle cx="777.7" cy="1124.9" r="9.0"/>
<circle cx="798.9" cy="1125.8" r="9.0"/>
<circle cx="820.2" cy="1127.5" r="9.0"/>
<circle cx="841.4" cy="1129.1" r="9.0"/>
<circle cx="862.7" cy="1129.9" r="9.0"/>
<circle cx="884.0" cy="1131.4" r="9.0"/>
<circle cx="905.2" cy="1133.1" r="9.0"/>
<circle cx="926.5" cy="1134.0" r="9.0"/>
<circle cx="947.7" cy="1135.6" r="9.0"/>
<circle cx="969.0" cy="1136.5" r="9.0"/>
<circle cx="990.3" cy="1137.3" r="9.0"/>
<circle cx="1011.5" cy="1138.2" r="9.0"/>
<circle cx="1032.8" cy="1139.9" r="9.0"/>
<circle cx="1054.0" cy="1140.7" r="9.0"/>
<circle cx="1075.3" cy="1141.0" r="9.0"/>
<circle cx="1096.6" cy="1141.3" r="9.0"/>
<circle cx="1117.8" cy="1143.3" r="9.0"/>
<circle cx="1139.1" cy="1146.2" r="9.0"/>
<circle cx="1160.3" cy="1147.2" r="9.0"/>
<circle cx="1181.6" cy="1149.2" r="9.0"/>
<circle cx="1202.9" cy="1152.1" r="9.0"/>
<circle cx="1224.1" cy="1154.1" r="9.0"/>
<circle cx="1245.4" cy="1156.1" r="9.0"/>
<circle cx="1266.6" cy="1157.1" r="9.0"/>
<circle cx="1287.9" cy="1158.0" r="9.0"/>
<circle cx="437.5" cy="1146.0" r="8.6" stroke-width="4.6"/>
<circle cx="1117.8" cy="1144.3" r="8.4" stroke-width="3.8"/>
</g>
<g fill="#000">
<circle cx="246.2" cy="1253.0" r="10.0"/>
<circle cx="267.4" cy="1249.6" r="10.0"/>
<circle cx="288.7" cy="1242.0" r="10.0"/>
<circle cx="309.9" cy="1233.6" r="10.0"/>
<circle cx="331.2" cy="1226.0" r="10.0"/>
<circle cx="352.5" cy="1219.3" r="10.0"/>
<circle cx="373.7" cy="1213.4" r="10.0"/>
<circle cx="395.0" cy="1207.4" r="10.0"/>
<circle cx="416.2" cy="1202.4" r="10.0"/>
<circle cx="437.5" cy="1196.4" r="10.0"/>
<circle cx="458.8" cy="1190.5" r="10.0"/>
<circle cx="480.0" cy="1186.2" r="10.0"/>
<circle cx="501.3" cy="1182.0" r="10.0"/>
<circle cx="522.5" cy="1178.7" r="10.0"/>
<circle cx="543.8" cy="1176.1" r="10.0"/>
<circle cx="565.1" cy="1173.6" r="10.0"/>
<circle cx="586.3" cy="1171.1" r="10.0"/>
<circle cx="607.6" cy="1170.2" r="10.0"/>
<circle cx="628.8" cy="1168.5" r="10.0"/>
<circle cx="650.1" cy="1167.8" r="10.0"/>
<circle cx="671.4" cy="1167.1" r="10.0"/>
<circle cx="692.6" cy="1167.1" r="10.0"/>
<circle cx="713.9" cy="1166.2" r="10.0"/>
<circle cx="735.1" cy="1166.2" r="10.0"/>
<circle cx="756.4" cy="1167.1" r="10.0"/>
<circle cx="777.7" cy="1167.9" r="10.0"/>
<circle cx="798.9" cy="1167.9" r="10.0"/>
<circle cx="820.2" cy="1173.0" r="10.0"/>
<circle cx="841.4" cy="1173.9" r="10.0"/>
<circle cx="862.7" cy="1178.4" r="10.0"/>
<circle cx="884.0" cy="1183.7" r="10.0"/>
<circle cx="905.2" cy="1187.9" r="10.0"/>
<circle cx="926.5" cy="1189.6" r="10.0"/>
<circle cx="947.7" cy="1192.1" r="10.0"/>
<circle cx="969.0" cy="1196.4" r="10.0"/>
<circle cx="990.3" cy="1201.4" r="10.0"/>
<circle cx="1011.5" cy="1205.6" r="10.0"/>
<circle cx="1032.8" cy="1209.8" r="10.0"/>
<circle cx="1054.0" cy="1212.4" r="10.0"/>
<circle cx="1075.3" cy="1213.6" r="10.0"/>
<circle cx="1096.6" cy="1216.1" r="10.0"/>
<circle cx="1117.8" cy="1218.1" r="10.0"/>
<circle cx="1139.1" cy="1219.0" r="10.0"/>
<circle cx="1160.3" cy="1221.0" r="10.0"/>
<circle cx="1181.6" cy="1225.0" r="10.0"/>
<circle cx="1202.9" cy="1227.9" r="10.0"/>
<circle cx="1224.1" cy="1229.9" r="10.0"/>
<circle cx="1245.4" cy="1232.8" r="10.0"/>
<circle cx="1266.6" cy="1234.8" r="10.0"/>
<circle cx="1287.9" cy="1236.8" r="10.0"/>
<circle cx="1309.2" cy="1242.7" r="10.0"/>
</g>
<text transform="translate(322.5,1062.4) scale(0.97,1)" font-size="61.5" font-weight="bold" text-anchor="start">Co</text>
<text transform="translate(396.5,1090.0) scale(1,1)" font-size="36" font-weight="bold" text-anchor="start">3</text>
<text transform="translate(417.0,1062.4) scale(0.97,1)" font-size="61.5" font-weight="bold" text-anchor="start">O</text>
<text transform="translate(462.0,1090.0) scale(1,1)" font-size="36" font-weight="bold" text-anchor="start">4</text>
<text transform="translate(621.2,1284.0) scale(0.93,1)" font-size="61" font-weight="bold" text-anchor="start">CoO</text>
<text transform="translate(1275.5,1046.0) scale(0.975,1)" font-size="61.5" font-weight="bold" text-anchor="start">(b)</text>
<text transform="translate(245.5,1584.5) scale(0.96,1)" font-size="46" font-weight="normal" text-anchor="start" stroke="#111" stroke-width="1.1">T = 55°C</text>
<text transform="translate(241.0,1643.5) scale(0.963,1)" font-size="46" font-weight="normal" text-anchor="start" stroke="#111" stroke-width="1.1">Rate: C/2</text>
<path d="M495.0 1038.8L623.3 1090.8" stroke="#1a1a1a" stroke-width="2.0" fill="none"/>
<path d="M649.0 1101.2L609.6 1098.5L623.3 1090.8L618.9 1075.7Z" fill="#141414"/>
<path d="M757.4 1260.5L819.4 1207.7" stroke="#1a1a1a" stroke-width="2.0" fill="none"/>
<path d="M840.5 1189.7L819.9 1223.4L819.4 1207.7L804.0 1204.7Z" fill="#141414"/>
</g></svg>
</body></html>
